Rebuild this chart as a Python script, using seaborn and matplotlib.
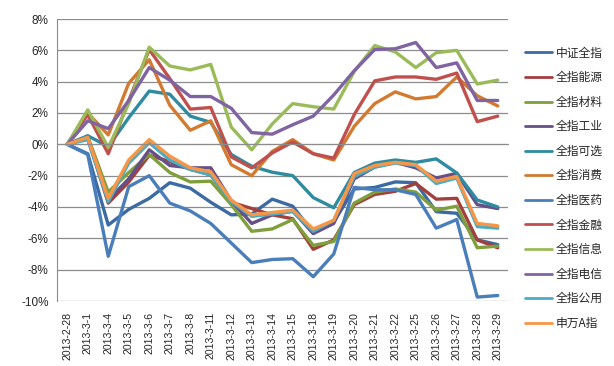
import pandas as pd
import matplotlib
matplotlib.use("Agg")
import matplotlib.pyplot as plt
import seaborn as sns

# trading days
dates = ["2013-2-28", "2013-3-1", "2013-3-4", "2013-3-5", "2013-3-6", "2013-3-7",
         "2013-3-8", "2013-3-11", "2013-3-12", "2013-3-13", "2013-3-14", "2013-3-15",
         "2013-3-18", "2013-3-19", "2013-3-20", "2013-3-21", "2013-3-22", "2013-3-25",
         "2013-3-26", "2013-3-27", "2013-3-28", "2013-3-29"]

# cumulative returns in %
zz_all = [0, -0.6, -5.15, -4.15, -3.45, -2.45, -2.8, -3.7, -4.5, -4.45, -3.5, -3.95,
          -5.65, -4.95, -2.85, -2.75, -2.4, -2.45, -4.3, -4.4, -6.1, -6.4]
energy = [0, 0.4, -3.75, -2.4, -0.7, -1.1, -1.6, -1.95, -3.7, -4.1, -4.5, -4.75,
          -6.7, -6.1, -3.85, -3.2, -3.0, -2.5, -3.5, -3.45, -6.1, -6.6]
materials = [0, 0.5, -3.05, -1.8, -0.65, -1.8, -2.4, -2.35, -3.85, -5.55, -5.4, -4.8,
             -6.45, -6.2, -3.75, -3.05, -2.85, -3.05, -4.2, -3.95, -6.6, -6.5]
industry = [0, 0.4, -3.55, -2.2, -0.35, -1.35, -1.5, -1.5, -3.6, -5.05, -4.5, -4.25,
            -5.7, -5.05, -2.2, -1.45, -1.15, -1.5, -2.15, -1.85, -3.85, -4.1]
discretionary = [0, 0.55, -0.15, 1.7, 3.4, 3.2, 1.8, 1.4, -0.65, -1.4, -1.78, -2.0,
                 -3.4, -4.05, -1.8, -1.2, -1.0, -1.15, -0.93, -1.83, -3.55, -4.0]
staples = [0, 2.0, 0.6, 3.9, 5.4, 2.5, 0.9, 1.5, -1.3, -2.0, -0.45, 0.3,
           -0.6, -1.0, 1.15, 2.6, 3.35, 2.9, 3.05, 4.3, 3.1, 2.45]
health = [0, -0.65, -7.15, -2.7, -2.0, -3.75, -4.25, -5.05, -6.3, -7.55, -7.35, -7.3,
          -8.45, -7.0, -2.75, -2.9, -2.9, -3.2, -5.35, -4.8, -9.75, -9.65]
finance = [0, 1.9, -0.6, 2.8, 6.05, 4.2, 2.25, 2.35, -0.8, -1.5, -0.55, 0.15,
           -0.6, -0.88, 1.9, 4.05, 4.3, 4.3, 4.15, 4.55, 1.45, 1.8]
infotech = [0, 2.2, -0.2, 2.6, 6.2, 5.0, 4.75, 5.1, 1.1, -0.35, 1.3, 2.6,
            2.4, 2.25, 4.65, 6.3, 5.9, 4.9, 5.85, 6.0, 3.85, 4.1]
telecom = [0, 1.5, 1.0, 2.8, 4.9, 4.1, 3.05, 3.05, 2.3, 0.75, 0.65, 1.25,
           1.8, 3.15, 4.7, 6.05, 6.1, 6.5, 4.9, 5.2, 2.8, 2.8]
utilities = [0, 0.3, -3.65, -1.2, 0.1, -1.0, -1.6, -1.95, -3.65, -4.6, -4.45, -4.3,
             -5.55, -4.85, -2.05, -1.45, -1.2, -1.35, -2.5, -2.15, -5.25, -5.35]
sw_a = [0, 0.45, -3.45, -1.0, 0.3, -0.75, -1.5, -1.75, -3.55, -4.5, -4.35, -4.2,
        -5.4, -4.85, -1.87, -1.35, -1.15, -1.3, -2.35, -2.05, -5.05, -5.2]

names = ["中证全指", "全指能源", "全指材料", "全指工业", "全指可选", "全指消费",
         "全指医药", "全指金融", "全指信息", "全指电信", "全指公用", "申万A指"]
series = [zz_all, energy, materials, industry, discretionary, staples,
          health, finance, infotech, telecom, utilities, sw_a]
colors = ["#3C6AA2", "#A3403D", "#7F9F3D", "#674F88", "#2E8BA0", "#D27B30",
          "#4A7EBB", "#C0504D", "#9BBB59", "#8064A2", "#4BACC6", "#F79646"]

rows = []
for name, vals in zip(names, series):
    for i, v in enumerate(vals):
        rows.append({"idx": i, "ret": v, "name": name})
df = pd.DataFrame(rows)

sns.set_style("white")
plt.rcParams["font.family"] = ["Liberation Sans", "Noto Sans CJK SC", "DejaVu Sans"]

fig = plt.figure(figsize=(6.14, 3.66), dpi=100)
ax = fig.add_axes([57 / 614, 1 - 301 / 366, 451 / 614, 282 / 366])

sns.lineplot(data=df, x="idx", y="ret", hue="name", hue_order=names,
             palette=colors, linewidth=2.4, sort=False, ax=ax, legend=True)

ax.set_xlim(-0.5, len(dates) - 0.5)
ax.set_ylim(-10, 8)
ax.set_yticks(range(-10, 9, 2))
ax.set_yticklabels([f"{v}%" for v in range(-10, 9, 2)], fontsize=8.5)
ax.yaxis.grid(True, color="#8C8C8C", linewidth=0.9)
ax.set_axisbelow(True)
ax.tick_params(axis="y", length=3, color="#8C8C8C", pad=3)

# category axis crosses at 0 with boundary ticks
ax.spines["bottom"].set_position(("data", 0))
ax.spines["bottom"].set_color("#8C8C8C")
ax.spines["left"].set_color("#8C8C8C")
ax.spines["top"].set_visible(False)
ax.spines["right"].set_visible(False)
ax.set_xticks([i - 0.5 for i in range(len(dates) + 1)])
ax.set_xticklabels([])
ax.tick_params(axis="x", length=4, color="#8C8C8C", direction="out")
ax.set_xlabel("")
ax.set_ylabel("")

sec = ax.secondary_xaxis("bottom")
sec.set_xticks(range(len(dates)))
sec.set_xticklabels(dates, rotation=90, fontsize=7.6)
sec.tick_params(length=0, pad=8)
sec.spines["bottom"].set_visible(False)

handles, labels = ax.get_legend_handles_labels()
for h in handles:
    h.set_linewidth(2.0)
ax.legend(handles, labels, loc="upper left", bbox_to_anchor=(514 / 614, 1 - 36 / 366),
          bbox_transform=fig.transFigure, frameon=False,
          handlelength=2.3, handletextpad=0.35, labelspacing=0.98,
          prop={"family": ["Noto Sans CJK SC", "DejaVu Sans"], "size": 8.5})

fig.savefig("out.png", dpi=100)
